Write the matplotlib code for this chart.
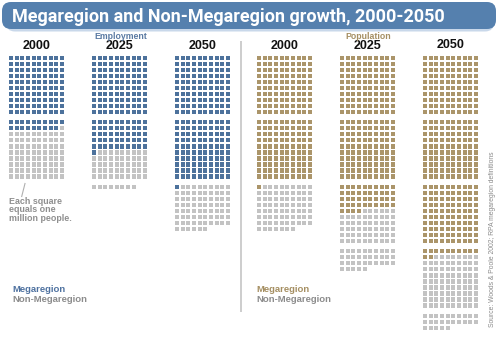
import matplotlib
matplotlib.use("Agg")
import matplotlib.pyplot as plt
from matplotlib.patches import Rectangle, FancyBboxPatch

# ---- data (each square = one million) ----
years = ["2000", "2025", "2050"]
emp_mega = [119, 151, 201]
emp_non = [81, 57, 75]
pop_mega = [201, 244, 312]
pop_non = [76, 91, 113]

title = "Megaregion and Non-Megaregion growth, 2000-2050"
panel_titles = ["Employment", "Population"]
legend_labels = ["Megaregion", "Non-Megaregion"]
note = "Each square\nequals one\nmillion people."
source = "Source: Woods & Poole 2002; RPA megaregion definitions"

# ---- styles ----
BLUE = "#4d729c"
TAN = "#ab956a"
GRAY = "#c3c3c3"
BAR = "#5580ae"
W, H = 500, 338

fig = plt.figure(figsize=(W / 100, H / 100), dpi=100)
ax = fig.add_axes([0, 0, 1, 1])
ax.set_xlim(0, W)
ax.set_ylim(H, 0)
ax.axis("off")

FONT = "Liberation Sans"

# title bar
ax.add_patch(FancyBboxPatch((6, 6), 488, 25.5, boxstyle="round,pad=0,rounding_size=9",
                            fc="#c9d8ea", ec="none"))
ax.add_patch(FancyBboxPatch((2, 2), 494, 27, boxstyle="round,pad=0,rounding_size=9",
                            fc=BAR, ec="none"))
t = ax.text(12, 16.5, title, color="white", fontsize=13, fontweight="bold",
            family="Roboto", va="center", ha="left")
fig.canvas.draw()
wpx = t.get_window_extent().width
t.set_fontsize(13 * 433 / wpx)

# waffle geometry
col_left = [9, 92, 175, 257, 340, 423]
x_pitch, sq_w = 5.65, 4.1
y0, y_pitch, sq_h, group_gap = 55.5, 6.05, 4.3, 4.0
ncols = 10

def draw_waffle(x_left, mega, non, color):
    total = mega + non
    for i in range(total):
        r, c = divmod(i, ncols)
        g = r // 10
        y = y0 + r * y_pitch + g * group_gap
        x = x_left + c * x_pitch
        ax.add_patch(Rectangle((x, y), sq_w, sq_h, fc=color if i < mega else GRAY,
                               ec="none"))

for k in range(3):
    draw_waffle(col_left[k], emp_mega[k], emp_non[k], BLUE)
    draw_waffle(col_left[3 + k], pop_mega[k], pop_non[k], TAN)

# year labels
grid_w = (ncols - 1) * x_pitch + sq_w
for k in range(6):
    yy = 46 if k < 5 else 44.5
    ax.text(col_left[k] + grid_w / 2, yy, years[k % 3], fontsize=9, fontweight="bold",
            family=FONT, ha="center", va="center", color="#111111")

# panel titles
ax.text(col_left[1] + grid_w / 2 + 1.5, 36.5, panel_titles[0], fontsize=6.3,
        fontweight="bold", family=FONT, ha="center", va="center", color="#5a7aa3")
ax.text(col_left[4] + grid_w / 2 + 0.5, 36.5, panel_titles[1], fontsize=6.3,
        fontweight="bold", family=FONT, ha="center", va="center", color="#a58f62")

# divider
ax.plot([241, 241], [41, 312], color="#c9c9c9", lw=1.3, solid_capstyle="butt")

# note
ax.plot([25, 21.7], [183.5, 196.5], color="#b0b0b0", lw=0.8)
ax.text(9, 210, note, fontsize=6.4, fontweight="bold", family=FONT, color="#8f8f8f",
        ha="left", va="center", linespacing=0.95)

# legends
for xl, c in [(12.5, "#4f72a0"), (256.5, "#a58f62")]:
    ax.text(xl, 290, legend_labels[0], fontsize=6.8, fontweight="bold", family=FONT,
            color=c, ha="left", va="center")
    ax.text(xl, 299.3, legend_labels[1], fontsize=6.8, fontweight="bold", family=FONT,
            color="#8c8c8c", ha="left", va="center")

# source
ax.text(493, 327, source, fontsize=4.9, family=FONT, color="#8a8a8a", rotation=90,
        ha="center", va="bottom")

fig.savefig("out.png", dpi=100)
